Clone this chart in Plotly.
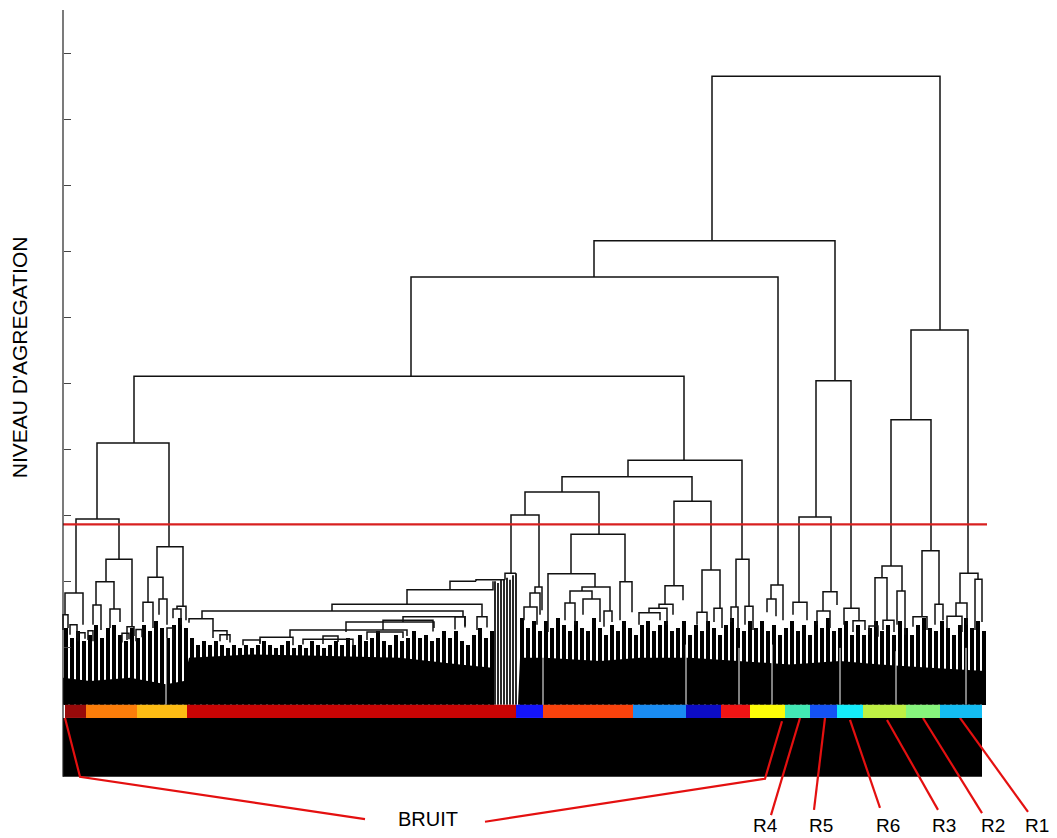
import plotly.graph_objects as go

# ---------------- frame (data units: x = leaf position, y = aggregation level) ----------------
X_RANGE = [-63, 994]
Y_RANGE = [-18.76, 108.02]
Y_TICKS = [10, 20, 30, 40, 50, 60, 70, 80, 90, 100]
AXIS_TOP = 106.5
LEAF_LEVEL = 1.4
BAND_BOTTOM = -0.6
BLOCK_BOTTOM = -9.5
BLOCK_RIGHT = 919
CUT_LEVEL = 28.7
CUT_RIGHT = 924

# ---------------- dendrogram links: (x_left, x_right, height, left_child_h, right_child_h) ----------------
main_links = [
    (649, 877, 96.5, 71.6, 58.1),
    (531, 772, 71.6, 66.1, 50.4),
    (348, 715, 66.1, 51.1, 19.5),
    (71, 621, 51.1, 41.0, 38.4),
    (34, 106, 41.0, 29.5, 25.3),
    (565, 679, 38.4, 35.9, 23.4),
    (499, 629, 35.9, 33.6, 32.2),
    (462, 536, 33.6, 30.1, 27.2),
    (611, 648, 32.2, 19.4, 21.8),
    (753, 788, 50.4, 29.8, 16.0),
    (736, 768, 29.8, 16.9, 18.5),
    (848, 905, 58.1, 44.5, 21.3),
    (828, 868, 44.5, 22.4, 24.7),
]

left_links = [
    (13, 56, 29.5, 18.3, 23.4),
    (2, 20, 18.3, 15.0, 13.5),
    (0, 5, 15.0, 12.7, 13.0),
    (43, 69, 23.4, 20.0, 13.2),
    (33, 51, 20.0, 16.5, 15.9),
    (30, 38, 16.5, 13.5, 12.7),
    (47, 57, 15.9, 13.0, 13.9),
    (64, 71, 13.2, 11.2, 11.8),
    (94, 120, 25.3, 20.7, 16.3),
    (85, 100, 20.7, 16.9, 17.4),
    (80, 90, 16.9, 13.9, 13.0),
    (96, 104, 17.4, 15.0, 13.5),
    (114, 123, 16.3, 15.9, 14.2),
    (110, 118, 15.9, 14.5, 13.5),
    (7, 14, 13.5, 12.0, 11.5),
    (15, 22, 12.3, 11.0, 11.4),
    (25, 30, 12.6, 11.2, 11.0),
    (59, 66, 12.2, 10.8, 11.3),
    (73, 79, 12.8, 11.0, 11.6),
    (104, 110, 13.0, 11.5, 11.2),
]

chain_links = [
    (442, 453, 21.3, 20.3, 21.3),
    (413, 442, 20.3, 20.1, 20.3),
    (387, 413, 20.1, 18.8, 20.1),
    (344, 430, 18.8, 16.6, 20.1),
    (269, 419, 16.6, 15.6, 14.7),
    (139, 400, 15.6, 14.4, 14.7),
    (126, 150, 14.4, 13.8, 12.7),
    (392, 402, 14.7, 12.8, 13.1),
    (414, 424, 14.7, 12.7, 13.1),
    (283, 371, 13.9, 12.4, 13.0),
    (320, 370, 14.2, 12.7, 12.5),
    (340, 402, 14.7, 13.9, 13.3),
    (227, 344, 12.7, 11.5, 11.8),
    (304, 340, 12.4, 11.2, 11.5),
    (150, 164, 12.6, 11.5, 11.2),
    (157, 167, 12.0, 11.0, 10.8),
    (180, 197, 11.2, 10.4, 10.6),
    (197, 230, 11.6, 10.8, 10.4),
    (240, 290, 11.3, 10.5, 10.2),
    (260, 275, 11.8, 10.6, 10.9),
]

middle_links = [
    (448, 476, 30.1, 21.3, 19.2),
    (472, 479, 19.2, 18.3, 15.7),
    (467, 477, 18.3, 16.2, 15.0),
    (461, 474, 16.2, 14.2, 13.5),
    (508, 562, 27.2, 21.2, 20.0),
    (485, 532, 21.2, 12.4, 19.2),
    (519, 547, 19.2, 18.6, 15.6),
    (507, 529, 18.6, 16.8, 17.4),
    (502, 512, 16.8, 14.2, 13.5),
    (520, 537, 17.4, 15.0, 13.9),
    (541, 549, 15.6, 13.2, 13.9),
    (557, 569, 20.0, 14.2, 15.4),
    (602, 620, 19.4, 16.6, 17.2),
    (596, 610, 16.6, 16.0, 15.0),
    (586, 604, 16.0, 15.3, 13.5),
    (576, 597, 15.3, 13.5, 14.2),
    (639, 657, 21.8, 15.4, 16.0),
    (634, 644, 15.4, 13.5, 12.7),
    (651, 659, 16.0, 13.9, 13.0),
    (673, 686, 23.4, 16.2, 16.3),
    (668, 675, 16.2, 13.9, 13.0),
    (682, 690, 16.3, 13.5, 12.7),
    (708, 720, 19.5, 17.4, 14.2),
    (704, 713, 17.4, 15.4, 14.8),
]

right_links = [
    (730, 744, 16.9, 15.0, 14.2),
    (760, 774, 18.5, 15.6, 16.5),
    (754, 767, 15.6, 13.5, 13.0),
    (781, 796, 16.0, 13.5, 14.1),
    (790, 802, 14.1, 12.4, 12.7),
    (819, 839, 22.4, 20.6, 18.6),
    (812, 824, 20.6, 13.3, 14.2),
    (806, 815, 13.3, 12.0, 11.7),
    (820, 831, 14.2, 12.7, 12.4),
    (834, 842, 18.6, 13.5, 12.0),
    (859, 876, 24.7, 14.7, 16.6),
    (850, 864, 14.7, 13.2, 12.7),
    (872, 880, 16.6, 13.5, 14.2),
    (897, 915, 21.3, 16.8, 20.4),
    (893, 904, 16.8, 14.8, 13.5),
    (884, 899, 14.8, 13.0, 12.4),
    (912, 919, 20.4, 12.7, 13.9),
]

# tall single stems in the chained cluster
tall_stem_x = [432, 435, 438, 441, 444, 447, 450, 453]
tall_stem_top = [20.1, 19.8, 20.3, 20.3, 20.6, 20.3, 21.0, 21.3]

# dense leaf forest: top of each 6-leaf slot
FOREST_SLOT = 6
forest_tops = [
    13.0, 11.5, 12.5, 11.0, 12.0, 13.5, 11.5, 13.0, 13.5, 12.0, 11.0, 13.0, 11.5, 13.5, 12.5, 14.0, 13.0, 11.5, 13.5, 14.5, 13.0,
    11.5, 10.5, 11.0, 10.5, 11.0, 10.5, 10.0, 10.5, 10.0, 10.5, 10.0, 10.5, 11.0, 10.5, 10.0, 10.5, 11.0, 10.0, 10.5, 10.0, 11.0, 10.5, 10.0, 10.5, 11.0, 10.5, 11.5,
    10.5, 12.0, 11.0, 11.5, 12.5, 11.0, 10.5, 12.0, 11.0, 11.5, 12.5, 11.5, 12.0, 11.0, 11.5, 12.5, 11.5, 12.5, 11.0, 10.5, 12.0, 13.0, 11.5, 12.5,
    1.4, 1.4, 1.4, 1.4,
    14.5, 13.0, 14.0, 12.5, 14.0, 13.0, 14.5, 13.5, 12.5, 14.0,
    13.0, 12.5, 14.5, 13.0, 12.0, 13.5, 12.5, 14.0, 13.0, 12.0,
    13.5, 14.0, 12.5, 13.5, 14.0, 12.5, 13.0, 14.0, 12.0, 13.5,
    12.5, 14.0, 13.0, 12.0, 13.5, 14.5, 13.0, 12.5, 14.0, 13.0,
    14.0, 12.5, 13.5, 12.0, 13.0, 14.0, 12.5, 13.5, 12.0, 14.0,
    13.0, 14.5, 12.5, 13.0, 14.0, 12.0, 13.5, 12.0, 13.0, 14.0,
    12.5, 13.5, 12.0, 14.0, 13.0, 12.0, 13.5, 14.5, 13.0, 12.5,
    14.0, 13.0, 12.0, 13.5, 14.5, 13.0, 14.0, 12.5,
]

# solid lower part of the forest
base_x = [0, 27, 67, 103, 121, 126, 187, 257, 337, 397, 429, 431, 455, 457, 482, 537, 577, 627, 677, 727, 777, 817, 867, 922]
base_top = [5.5, 5.0, 5.5, 4.5, 5.0, 8.5, 9.0, 8.8, 8.5, 7.5, 7.0, 1.4, 1.4, 8.5, 8.5, 8.0, 8.5, 8.5, 8.0, 7.5, 8.0, 7.5, 7.0, 6.5]

# white gaps between clusters, reaching the colour band
white_gap_x = [103, 480, 623, 676, 709, 777, 833, 903]
white_gap_top = [13.0, 9.5, 10.5, 10.0, 10.5, 10.0, 9.5, 10.0]

# cluster colour band
cluster_edges = [2, 23, 74, 124, 453, 480, 570, 623, 658, 687, 722, 747, 774, 800, 843, 877, 919]
cluster_colors = ["#980a0a", "#fb7d0a", "#fcbb14", "#c80404", "#1414fa", "#f8420c", "#1a8cf2",
                  "#0c0cc4", "#f01414", "#fcfc08", "#42e8b4", "#1452f4", "#14ecfa", "#bef044",
                  "#86f47c", "#14bcf2"]

# labels and pointers
region_labels = ["R4", "R5", "R6", "R3", "R2", "R1"]
region_band_x = [737, 762, 787, 824, 860, 897]
region_band_y = [-0.6, -0.6, -0.9, -0.9, -0.6, -0.6]
region_tip_x = [708, 751, 817, 875, 919, 965]
region_tip_y = [-15.3, -14.5, -14.2, -14.5, -15.0, -14.8]
region_label_x = [702, 758, 825, 881, 930, 974]
REGION_LABEL_Y = -16.9

noise_label = "BRUIT"
noise_label_xy = (365, -15.9)
noise_left_x = [2, 17, 302]
noise_left_y = [-0.6, -9.5, -15.9]
noise_right_x = [422, 702, 719]
noise_right_y = [-16.3, -9.8, -1.1]

y_title = "NIVEAU D'AGREGATION"
y_title_xy = (-43.5, 53.9)

FONT = "Arial, Liberation Sans, sans-serif"

fig = go.Figure()

# solid base of forest
fig.add_trace(go.Scatter(
    x=[base_x[0]] + base_x + [base_x[-1]],
    y=[LEAF_LEVEL] + base_top + [LEAF_LEVEL],
    fill="toself", fillcolor="black", mode="lines", line=dict(width=0),
    hoverinfo="skip", showlegend=False))

# forest bars
forest_x = [FOREST_SLOT / 2 + FOREST_SLOT * i for i in range(len(forest_tops))]
fig.add_trace(go.Bar(
    x=forest_x, y=[t - LEAF_LEVEL for t in forest_tops], base=LEAF_LEVEL,
    width=4.6, marker=dict(color="black", line=dict(width=0)),
    hoverinfo="skip", showlegend=False))

# white gaps
gx, gy = [], []
for x, t in zip(white_gap_x, white_gap_top):
    gx += [x, x, None]
    gy += [LEAF_LEVEL, t, None]
fig.add_trace(go.Scatter(x=gx, y=gy, mode="lines", line=dict(color="white", width=1),
                         hoverinfo="skip", showlegend=False))

# tall stems
sx, sy = [], []
for x, t in zip(tall_stem_x, tall_stem_top):
    sx += [x, x, None]
    sy += [LEAF_LEVEL, t, None]
fig.add_trace(go.Scatter(x=sx, y=sy, mode="lines", line=dict(color="#111111", width=1.8),
                         hoverinfo="skip", showlegend=False))

# dendrogram links
lx, ly = [], []
for group in (main_links, left_links, chain_links, middle_links, right_links):
    for xl, xr, h, hl, hr in group:
        lx += [xl, xl, xr, xr, None]
        ly += [hl, h, h, hr, None]
fig.add_trace(go.Scatter(x=lx, y=ly, mode="lines", line=dict(color="#111111", width=1.5),
                         hoverinfo="skip", showlegend=False))

# pointer lines
pointer_style = dict(color="#e41010", width=2.2)
fig.add_trace(go.Scatter(x=noise_left_x, y=noise_left_y, mode="lines", line=pointer_style,
                         hoverinfo="skip", showlegend=False))
fig.add_trace(go.Scatter(x=noise_right_x, y=noise_right_y, mode="lines", line=pointer_style,
                         hoverinfo="skip", showlegend=False))
px_, py_ = [], []
for bx, by, tx, ty in zip(region_band_x, region_band_y, region_tip_x, region_tip_y):
    px_ += [bx, tx, None]
    py_ += [by, ty, None]
fig.add_trace(go.Scatter(x=px_, y=py_, mode="lines", line=pointer_style,
                         hoverinfo="skip", showlegend=False))

shapes = []
# black block under the band
shapes.append(dict(type="rect", xref="x", yref="y", x0=0, x1=BLOCK_RIGHT, y0=BLOCK_BOTTOM, y1=BAND_BOTTOM,
                   fillcolor="black", line=dict(width=0), layer="below"))
# colour band
for i, c in enumerate(cluster_colors):
    shapes.append(dict(type="rect", xref="x", yref="y", x0=cluster_edges[i], x1=cluster_edges[i + 1],
                       y0=BAND_BOTTOM, y1=LEAF_LEVEL, fillcolor=c, line=dict(width=0), layer="above"))
# cut line
shapes.append(dict(type="line", xref="x", yref="y", x0=0, x1=CUT_RIGHT, y0=CUT_LEVEL, y1=CUT_LEVEL,
                   line=dict(color="#d82020", width=2.2), layer="above"))
# vertical axis line
shapes.append(dict(type="line", xref="x", yref="y", x0=0, x1=0, y0=BLOCK_BOTTOM, y1=AXIS_TOP,
                   line=dict(color="#222222", width=1.2), layer="above"))

annotations = []
for lab, x in zip(region_labels, region_label_x):
    annotations.append(dict(x=x, y=REGION_LABEL_Y, xref="x", yref="y", text=lab, showarrow=False,
                            font=dict(family=FONT, size=19, color="black")))
annotations.append(dict(x=noise_label_xy[0], y=noise_label_xy[1], xref="x", yref="y", text=noise_label,
                        showarrow=False, font=dict(family=FONT, size=20, color="black")))
annotations.append(dict(x=y_title_xy[0], y=y_title_xy[1], xref="x", yref="y", text=y_title,
                        textangle=-90, showarrow=False, font=dict(family=FONT, size=21, color="black")))

fig.update_layout(
    width=1057, height=838, autosize=False,
    margin=dict(l=0, r=0, t=0, b=0),
    paper_bgcolor="white", plot_bgcolor="white",
    showlegend=False, hovermode=False,
    bargap=0,
    shapes=shapes, annotations=annotations,
    xaxis=dict(range=X_RANGE, visible=False, fixedrange=True),
    yaxis=dict(range=Y_RANGE, anchor="free",
               position=(0 - X_RANGE[0]) / (X_RANGE[1] - X_RANGE[0]),
               tickvals=Y_TICKS, ticks="inside", ticklen=7, tickwidth=1, tickcolor="#444444",
               showticklabels=False, showgrid=False, zeroline=False, showline=False,
               fixedrange=True),
)

fig.write_html(
    "out.html",
    config={"displayModeBar": False, "staticPlot": True},
    post_script="document.body.style.margin='0';document.body.style.padding='0';document.body.style.overflow='hidden';",
)
